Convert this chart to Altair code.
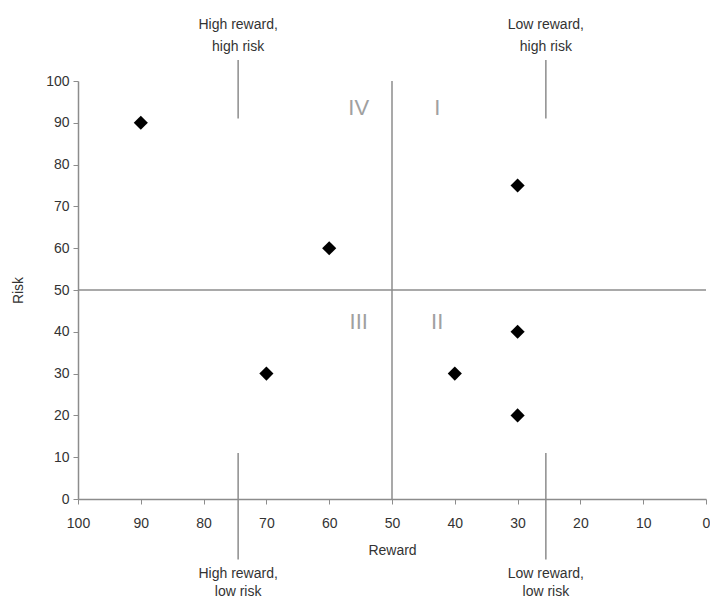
import altair as alt
import pandas as pd

reward = [90, 60, 30, 30, 40, 30, 70]
risk = [90, 60, 75, 40, 30, 20, 30]

quad_labels = ["IV", "I", "III", "II"]
quad_x = [55.3, 42.8, 55.3, 42.8]
quad_y = [93.5, 93.5, 42.3, 42.3]

top_text = ["High reward,\nhigh risk", "Low reward,\nhigh risk"]
top_x = [74.5, 25.5]
top_y = [113.5, 113.5]
bottom_text = ["High reward,\nlow risk", "Low reward,\nlow risk"]
bottom_x = [74.5, 25.5]
bottom_y = [-18.0, -18.0]
tick_x = [74.5, 25.5, 74.5, 25.5]
tick_y1 = [105, 105, 11, 11]
tick_y2 = [91, 91, -14.5, -14.5]

FONT = "Liberation Sans, Arial, sans-serif"
GRAY = "#8c8c8c"

pts = pd.DataFrame({"reward": reward, "risk": risk})
quads = pd.DataFrame({"x": quad_x, "y": quad_y, "t": quad_labels})
tnotes = pd.DataFrame({"x": top_x, "y": top_y, "t": top_text})
bnotes = pd.DataFrame({"x": bottom_x, "y": bottom_y, "t": bottom_text})
ticks = pd.DataFrame({"x": tick_x, "y": tick_y1, "y2": tick_y2})
vline = pd.DataFrame({"x": [50], "y": [0], "y2": [100]})
hline = pd.DataFrame({"y": [50], "x": [100], "x2": [0]})

xs = alt.Scale(domain=[100, 0], nice=False)
ys = alt.Scale(domain=[0, 100], nice=False)

xaxis = alt.Axis(values=list(range(0, 101, 10)), grid=False, title="Reward",
                 domainColor=GRAY, tickColor=GRAY, tickSize=5, domainWidth=1.5,
                 labelFlush=False, labelOverlap=False,
                 labelFontSize=14, labelFont=FONT, labelColor="#333",
                 titleFontSize=14, titleFont=FONT, titleFontWeight="normal",
                 titleColor="#333", labelPadding=12, titlePadding=13)
yaxis = alt.Axis(values=list(range(0, 101, 10)), grid=False, title="Risk",
                 domainColor=GRAY, tickColor=GRAY, tickSize=5, domainWidth=1.5,
                 labelFlush=False, labelOverlap=False,
                 labelFontSize=14, labelFont=FONT, labelColor="#333",
                 titleFontSize=14, titleFont=FONT, titleFontWeight="normal",
                 titleColor="#333", labelPadding=4, titlePadding=20)

base_pts = alt.Chart(pts).mark_point(shape="diamond", filled=True, color="black",
                                     size=200, opacity=1).encode(
    x=alt.X("reward:Q", scale=xs, axis=xaxis),
    y=alt.Y("risk:Q", scale=ys, axis=yaxis),
)

v = alt.Chart(vline).mark_rule(color=GRAY, strokeWidth=1.5).encode(
    x=alt.X("x:Q", scale=xs), y=alt.Y("y:Q", scale=ys), y2="y2:Q")
h = alt.Chart(hline).mark_rule(color=GRAY, strokeWidth=1.5).encode(
    y=alt.Y("y:Q", scale=ys), x=alt.X("x:Q", scale=xs), x2="x2:Q")

tk = alt.Chart(ticks).mark_rule(color=GRAY, strokeWidth=1.5, clip=False).encode(
    x=alt.X("x:Q", scale=xs), y=alt.Y("y:Q", scale=ys), y2="y2:Q")

q = alt.Chart(quads).mark_text(font=FONT, fontSize=22, color="#a0a0a0").encode(
    x=alt.X("x:Q", scale=xs), y=alt.Y("y:Q", scale=ys), text="t:N")

nt = alt.Chart(tnotes).mark_text(font=FONT, fontSize=14, color="#333", lineBreak="\n",
                                 lineHeight=22, clip=False, baseline="middle").encode(
    x=alt.X("x:Q", scale=xs), y=alt.Y("y:Q", scale=ys), text="t:N")
nb = alt.Chart(bnotes).mark_text(font=FONT, fontSize=14, color="#333", lineBreak="\n",
                                 lineHeight=18, clip=False, baseline="middle").encode(
    x=alt.X("x:Q", scale=xs), y=alt.Y("y:Q", scale=ys), text="t:N")

chart = alt.layer(v, h, tk, q, nt, nb, base_pts).properties(
    width=628, height=418,
    autosize=alt.AutoSizeParams(type="none"),
    padding={"left": 70, "top": 73, "right": 4, "bottom": 103},
).configure_view(stroke=None)

chart.save("out.html", embed_options={"renderer": "svg", "actions": False})
